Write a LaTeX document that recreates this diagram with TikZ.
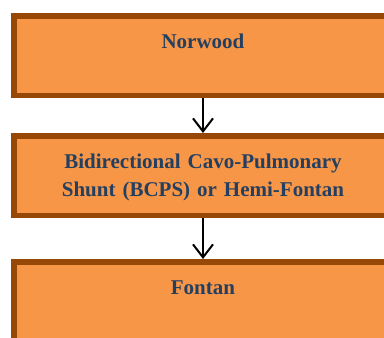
\documentclass[tikz,border=0pt]{standalone}
\usepackage{fontspec}
\setmainfont{Liberation Serif}
\usepackage{xcolor}
\usetikzlibrary{arrows.meta}
\definecolor{boxfill}{HTML}{F79646}
\definecolor{boxline}{HTML}{984806}
\definecolor{boxtext}{HTML}{243F60}
\begin{document}
\begin{tikzpicture}[x=1pt,y=-1pt,
  stagebox/.style={draw=boxline,fill=boxfill,line width=5.5pt,anchor=north,
    inner sep=0pt,minimum width=378.5pt,text width=378.5pt,align=center,
    text height=32.25pt,text depth=47.5pt,text=boxtext,
    font=\fontsize{21}{28}\selectfont\bfseries},
  stagearrow/.style={line width=2pt,-{Straight Barb[length=13pt,width=20pt,line width=2pt]}}]
\useasboundingbox (0,0) rectangle (384,338);
\clip (0,0) rectangle (384,338);

\node[stagebox] (norwood) at (203,13) {Norwood};
\node[stagebox] (bcps) at (203,133) {Bidirectional Cavo-Pulmonary\\Shunt (BCPS) or Hemi-Fontan};
\node[stagebox] (fontan) at (203,259) {Fontan};

\draw[stagearrow] (norwood.south) -- (bcps.north);
\draw[stagearrow] (bcps.south) -- (fontan.north);

\end{tikzpicture}
\end{document}
